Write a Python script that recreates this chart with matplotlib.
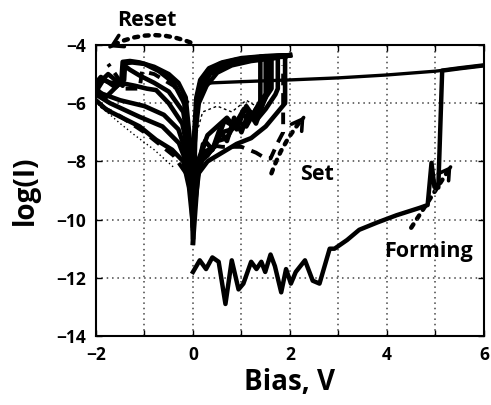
import matplotlib
matplotlib.use("Agg")
import matplotlib.pyplot as plt
from matplotlib.patches import FancyArrowPatch

plt.rcParams['font.family'] = ['Open Sans', 'DejaVu Sans']
plt.rcParams['font.weight'] = 'bold'

# ---------------- data ----------------
x_ticks = [-2, 0, 2, 4, 6]
y_ticks = [-14, -12, -10, -8, -6, -4]

# forming sweep
form_v = [0, 0.14, 0.27, 0.4, 0.53, 0.67, 0.8, 0.94, 1.04, 1.2, 1.31, 1.41, 1.49, 1.6,
          1.69, 1.82, 1.92, 2.02, 2.12, 2.31, 2.47, 2.61, 2.82, 2.92, 3.18, 3.43, 3.8,
          4.2, 4.67, 4.84, 4.92, 4.98, 5.06, 5.14, 5.5, 6.0]
form_logi = [-11.8, -11.4, -11.7, -11.3, -11.45, -12.9, -11.4, -12.4, -12.2, -11.45, -11.7,
             -11.45, -11.8, -11.2, -11.6, -12.5, -11.7, -12.2, -11.8, -11.4, -12.1, -12.2,
             -11.0, -11.0, -10.7, -10.35, -10.1, -9.85, -9.6, -9.5, -8.05, -8.88, -8.9,
             -4.88, -4.8, -4.7]
# forming return sweep
fret_v = [6.0, 5.0, 4.0, 3.0, 2.0, 1.0, 0.4, 0.2, 0.1, 0.04, 0.0]
fret_logi = [-4.7, -4.9, -5.03, -5.13, -5.2, -5.26, -5.3, -5.35, -5.8, -7.0, -9.0]

# positive side: LRS return sweeps (2 V -> 0 V)
lrs1_v = [2.0, 1.5, 1.0, 0.6, 0.33, 0.15, 0.07, 0.02, 0.0]
lrs1_logi = [-4.35, -4.38, -4.45, -4.6, -4.8, -5.2, -5.8, -7.2, -9.0]
lrs2_v = [1.9, 1.4, 1.0, 0.6, 0.35, 0.18, 0.08, 0.03, 0.0]
lrs2_logi = [-4.4, -4.45, -4.55, -4.75, -5.0, -5.5, -6.2, -7.5, -9.8]
lrs3_v = [1.7, 1.2, 0.8, 0.5, 0.28, 0.12, 0.05, 0.0]
lrs3_logi = [-4.45, -4.55, -4.7, -4.95, -5.4, -6.0, -7.0, -10.2]
lrs4_v = [1.8, 1.3, 0.9, 0.55, 0.3, 0.14, 0.06, 0.02, 0.0]
lrs4_logi = [-4.38, -4.42, -4.5, -4.65, -4.9, -5.35, -6.4, -8.0, -10.8]

# positive side: HRS set sweeps (0 V -> Vset, jump)
hrs1_v = [0.0, 0.08, 0.15, 0.3, 0.5, 0.7, 0.9, 1.1, 1.3, 1.39, 1.39, 2.0]
hrs1_logi = [-9.5, -8.6, -8.0, -7.8, -7.3, -7.2, -6.6, -6.8, -6.2, -6.0, -4.4, -4.35]
hrs2_v = [0.0, 0.1, 0.2, 0.4, 0.6, 0.8, 1.0, 1.2, 1.4, 1.55, 1.55, 2.0]
hrs2_logi = [-10.8, -8.5, -7.9, -7.6, -7.0, -6.9, -6.4, -6.5, -5.9, -5.6, -4.4, -4.35]
hrs3_v = [0.0, 0.08, 0.2, 0.45, 0.65, 0.85, 1.05, 1.3, 1.5, 1.62, 1.62, 2.0]
hrs3_logi = [-9.0, -8.3, -7.7, -7.5, -6.6, -6.8, -6.2, -6.4, -5.8, -5.5, -4.4, -4.35]
hrs4_v = [0.0, 0.12, 0.3, 0.6, 0.9, 1.2, 1.5, 1.7, 1.9, 1.9, 2.0]
hrs4_logi = [-10.0, -8.4, -8.0, -7.7, -7.4, -7.2, -6.8, -6.4, -6.0, -4.4, -4.35]
hrs5_v = [0.0, 0.1, 0.25, 0.4, 0.55, 0.7, 0.85, 1.0, 1.15, 1.3, 1.45, 1.5, 1.5]
hrs5_logi = [-9.3, -8.2, -7.3, -7.6, -6.9, -7.3, -6.5, -7.0, -6.3, -6.7, -6.0, -5.8, -4.4]
hrs6_v = [0.0, 0.1, 0.3, 0.5, 0.7, 0.9, 1.1, 1.3, 1.5, 1.7, 1.75, 1.75]
hrs6_logi = [-9.6, -8.0, -7.1, -6.8, -6.5, -6.9, -6.1, -6.6, -6.2, -5.7, -5.5, -4.4]
hrsd_v = [0.0, 0.2, 0.6, 1.0, 1.3, 1.5, 1.6, 1.75, 1.86, 1.86]
hrsd_logi = [-9.0, -7.4, -7.5, -7.5, -7.7, -7.9, -7.9, -7.35, -7.0, -4.7]
hrst_v = [0.05, 0.2, 0.5, 0.8, 1.1, 1.3]
hrst_logi = [-7.2, -6.3, -6.1, -6.3, -5.9, -6.1]

# negative side: LRS reset sweeps (0 V -> -2 V)
rst1_v = [0.0, -0.05, -0.15, -0.3, -0.5, -0.8, -1.1, -1.3, -1.45, -1.48, -1.7, -1.85, -2.0]
rst1_logi = [-9.5, -7.5, -5.8, -5.3, -5.0, -4.75, -4.6, -4.55, -4.58, -5.3, -5.3, -5.2, -5.6]
rst2_v = [0.0, -0.05, -0.2, -0.5, -0.8, -1.1, -1.3, -1.42, -1.45, -1.75, -2.0]
rst2_logi = [-10.3, -7.8, -6.3, -5.6, -5.3, -5.05, -4.85, -4.7, -5.4, -5.0, -5.4]
rst3_v = [0.0, -0.06, -0.22, -0.5, -0.76, -0.95, -1.2, -1.5, -1.8, -2.0]
rst3_logi = [-9.8, -8.0, -6.7, -6.0, -5.55, -5.5, -5.4, -5.3, -5.8, -5.5]
rst4_v = [0.0, -0.06, -0.18, -0.4, -0.7, -1.0, -1.25, -1.4, -1.42, -1.6, -1.9, -2.0]
rst4_logi = [-10.6, -7.9, -6.0, -5.3, -4.9, -4.65, -4.6, -4.62, -5.2, -5.45, -5.1, -5.3]

# negative side: HRS return sweeps (-2 V -> 0 V)
hn1_v = [-2.0, -1.71, -1.1, -0.63, -0.29, -0.1, 0.0]
hn1_logi = [-5.7, -6.0, -6.47, -6.8, -7.37, -8.2, -9.0]
hn2_v = [-2.0, -1.78, -1.1, -0.76, -0.43, -0.2, -0.08, 0.0]
hn2_logi = [-5.9, -6.23, -6.8, -7.26, -7.6, -8.0, -8.9, -10.2]
hn3_v = [-2.0, -1.5, -1.0, -0.6, -0.3, -0.12, 0.0]
hn3_logi = [-5.6, -5.9, -6.1, -6.4, -6.9, -7.8, -8.8]
hnd_v = [-1.9, -1.5, -1.0, -0.7, -0.4, -0.15]
hnd_logi = [-6.1, -6.45, -7.0, -7.4, -7.8, -8.4]
hnt_v = [-1.95, -1.5, -1.2, -0.8, -0.4]
hnt_logi = [-6.05, -6.7, -7.1, -7.6, -8.2]
rsd_v = [-0.1, -0.4, -0.8, -1.05, -1.1, -1.4, -1.6, -1.75]
rsd_logi = [-6.0, -5.4, -5.0, -4.9, -5.5, -5.5, -5.0, -4.65]

# ---------------- figure ----------------
fig = plt.figure(figsize=(4.91, 4.05), dpi=100)
ax = fig.add_axes([0.1955, 0.1704, 0.7900, 0.7185])

lw = 3.3
solid = [(lrs1_v, lrs1_logi), (lrs2_v, lrs2_logi), (lrs3_v, lrs3_logi), (lrs4_v, lrs4_logi),
         (hrs1_v, hrs1_logi), (hrs2_v, hrs2_logi), (hrs3_v, hrs3_logi), (hrs4_v, hrs4_logi),
         (hrs5_v, hrs5_logi), (hrs6_v, hrs6_logi),
         (rst1_v, rst1_logi), (rst2_v, rst2_logi), (rst3_v, rst3_logi), (rst4_v, rst4_logi),
         (hn1_v, hn1_logi), (hn2_v, hn2_logi), (hn3_v, hn3_logi)]
for xv, yv in solid:
    ax.plot(xv, yv, color='black', lw=lw, solid_joinstyle='round')
ax.plot(hrsd_v, hrsd_logi, color='black', lw=2.8, ls=(0, (3, 2)))
ax.plot(hnd_v, hnd_logi, color='black', lw=2.8, ls=(0, (3, 2)))
ax.plot(rsd_v, rsd_logi, color='black', lw=2.8, ls=(0, (3, 2)))
ax.plot(hrst_v, hrst_logi, color='black', lw=1.0, ls=(0, (2, 2)))
ax.plot(hnt_v, hnt_logi, color='black', lw=1.0, ls=(0, (1, 2)))
ax.plot(fret_v, fret_logi, color='black', lw=2.4)
ax.plot(form_v, form_logi, color='black', lw=3.2, solid_joinstyle='round')

ax.set_xlim(-2, 6)
ax.set_ylim(-14, -4)
ax.set_xticks(x_ticks)
ax.set_xticks([-1, 1, 3, 5], minor=True)
ax.set_yticks(y_ticks)
ax.grid(True, which='both', axis='x', color='#444444', ls=(0, (1, 2.5)), lw=1.1)
ax.grid(True, which='major', axis='y', color='#444444', ls=(0, (1, 2.5)), lw=1.1)
ax.tick_params(which='both', direction='in', top=True, right=True, length=4, width=1)
ax.tick_params(axis='both', labelsize=12.5, pad=7)
for s in ax.spines.values():
    s.set_linewidth(1.5)
for lab in ax.get_xticklabels() + ax.get_yticklabels():
    lab.set_fontweight('bold')

ax.set_xlabel('Bias, V', fontsize=20, fontweight='bold', labelpad=3)
ax.set_ylabel('log(I)', fontsize=20, fontweight='bold', labelpad=12)

# annotations
dot = (0, (0.9, 1.5))
def dotted_arrow(p0, p1, rad, head_dir):
    a = FancyArrowPatch(p0, p1, arrowstyle='-', connectionstyle=f'arc3,rad={rad}',
                        lw=3.2, ls=dot, color='black', clip_on=False)
    ax.add_patch(a)
    hx, hy = head_dir
    ax.annotate('', xy=p1, xytext=(p1[0] - hx, p1[1] - hy),
                arrowprops=dict(arrowstyle='->,head_length=0.75,head_width=0.45',
                                lw=2.6, color='black'),
                annotation_clip=False)

dotted_arrow((0.0, -3.95), (-1.78, -4.12), 0.25, (-0.12, -0.1))
dotted_arrow((1.6, -8.5), (2.3, -6.45), -0.1, (0.05, 0.12))
dotted_arrow((4.47, -10.36), (5.33, -8.15), 0.0, (0.05, 0.12))

ax.text(-0.96, -3.15, 'Reset', fontsize=15.5, fontweight='bold', ha='center', va='center',
        clip_on=False)
ax.text(2.55, -8.45, 'Set', fontsize=15.5, fontweight='bold', ha='center', va='center')
ax.text(4.86, -11.1, 'Forming', fontsize=15.5, fontweight='bold', ha='center', va='center')

fig.savefig('out.png', dpi=100)
